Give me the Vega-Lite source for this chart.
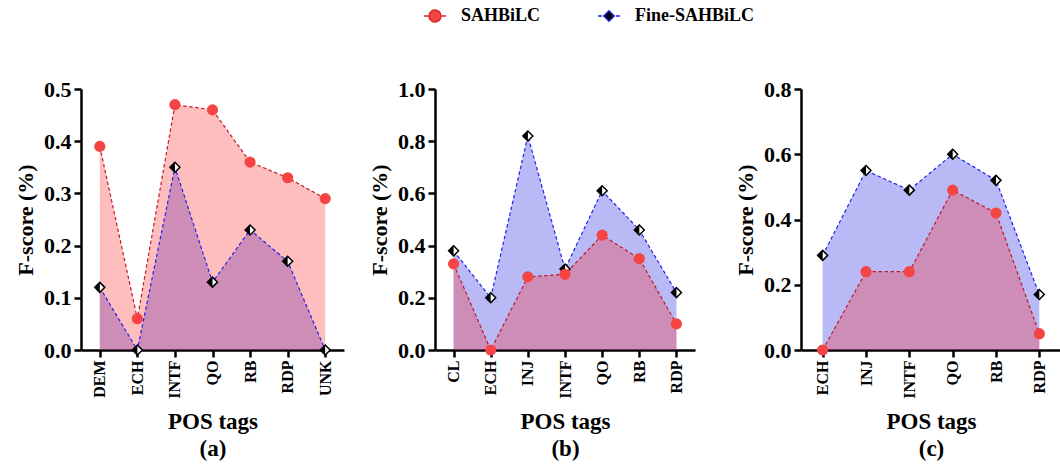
{
  "$schema": "https://vega.github.io/schema/vega-lite/v6.json",
  "background": "white",
  "padding": {"left": 14, "top": 4, "right": 0, "bottom": 0},
  "config": {
    "view": {"stroke": null},
    "font": "Liberation Serif",
    "axis": {"domainColor": "black", "domainWidth": 2.5, "tickColor": "black", "tickWidth": 2.5, "tickSize": 7, "labelColor": "black", "titleColor": "black", "labelFont": "Liberation Serif", "titleFont": "Liberation Serif", "labelFontWeight": "bold", "titleFontWeight": "bold", "grid": false},
    "axisY": {"labelFontSize": 22, "titleFontSize": 22, "titlePadding": 6, "labelPadding": 3},
    "axisX": {"labelFontSize": 16, "labelAngle": -90, "titleFontSize": 23, "labelPadding": 3, "titlePadding": 12, "titleLineHeight": 27}
  },
  "datasets": {
    "a": [
      {"tag": "DEM", "s": 0.39, "f": 0.12},
      {"tag": "ECH", "s": 0.06, "f": 0.0},
      {"tag": "INTF", "s": 0.47, "f": 0.35},
      {"tag": "QO", "s": 0.46, "f": 0.13},
      {"tag": "RB", "s": 0.36, "f": 0.23},
      {"tag": "RDP", "s": 0.33, "f": 0.17},
      {"tag": "UNK", "s": 0.29, "f": 0.0}
    ],
    "b": [
      {"tag": "CL", "s": 0.33, "f": 0.38},
      {"tag": "ECH", "s": 0.0, "f": 0.20},
      {"tag": "INJ", "s": 0.28, "f": 0.82},
      {"tag": "INTF", "s": 0.29, "f": 0.31},
      {"tag": "QO", "s": 0.44, "f": 0.61},
      {"tag": "RB", "s": 0.35, "f": 0.46},
      {"tag": "RDP", "s": 0.10, "f": 0.22}
    ],
    "c": [
      {"tag": "ECH", "s": 0.0, "f": 0.29},
      {"tag": "INJ", "s": 0.24, "f": 0.55},
      {"tag": "INTF", "s": 0.24, "f": 0.49},
      {"tag": "QO", "s": 0.49, "f": 0.60},
      {"tag": "RB", "s": 0.42, "f": 0.52},
      {"tag": "RDP", "s": 0.05, "f": 0.17}
    ]
  },
  "bounds": "flush",
  "spacing": 91,
  "resolve": {"scale": {"x": "independent", "y": "independent"}},
  "hconcat": [
    {
      "width": 263, "height": 261,
      "data": {"name": "a"},
      "encoding": {"x": {"field": "tag", "type": "nominal", "sort": null, "scale": {"type": "point", "padding": 0.5}, "axis": {"title": ["POS tags", "(a)"]}}},
      "layer": [
        {"mark": {"type": "area", "color": "#1818dd", "opacity": 0.3}, "encoding": {"y": {"field": "f", "type": "quantitative", "title": "F-score (%)", "scale": {"domain": [0, 0.5], "nice": false}, "axis": {"values": [0, 0.1, 0.2, 0.3, 0.4, 0.5], "format": ".1f"}}}},
        {"mark": {"type": "area", "color": "#ff2828", "opacity": 0.3}, "encoding": {"y": {"field": "s", "type": "quantitative", "title": "F-score (%)"}}},
        {"mark": {"type": "line", "color": "#2020f0", "strokeDash": [3.5, 2.5], "strokeWidth": 1.2}, "encoding": {"y": {"field": "f", "type": "quantitative", "title": "F-score (%)"}}},
        {"mark": {"type": "line", "color": "#c01828", "strokeDash": [3.5, 2.5], "strokeWidth": 1.2}, "encoding": {"y": {"field": "s", "type": "quantitative", "title": "F-score (%)"}}},
        {"mark": {"type": "point", "shape": "diamond", "filled": true, "fill": "white", "stroke": "black", "strokeWidth": 1.5, "size": 100, "opacity": 1}, "encoding": {"y": {"field": "f", "type": "quantitative", "title": "F-score (%)"}}},
        {"mark": {"type": "point", "shape": "M-1,0L0,-1L0,1Z", "filled": true, "color": "black", "size": 100, "opacity": 1}, "encoding": {"y": {"field": "f", "type": "quantitative", "title": "F-score (%)"}}},
        {"mark": {"type": "point", "shape": "circle", "filled": true, "color": "#f44444", "size": 125, "opacity": 1}, "encoding": {"y": {"field": "s", "type": "quantitative", "title": "F-score (%)"}}},
        {
          "data": {"values": []},
          "mark": {"type": "point", "filled": true, "strokeWidth": 1.3, "opacity": 1},
          "encoding": {
            "shape": {"field": "series", "type": "nominal", "scale": {"domain": ["SAHBiLC", "Fine-SAHBiLC"], "range": ["M-1,0H-0.62M0.62,0H1M-0.55,0A0.55,0.55,0,1,1,0.55,0A0.55,0.55,0,1,1,-0.55,0Z", "M-1,0H-0.62M0.62,0H1M-0.48,0L0,-0.48L0.48,0L0,0.48Z"]},
              "legend": {"title": null, "orient": "none", "legendX": 342, "legendY": -85, "direction": "horizontal", "labelFontSize": 18, "labelFont": "Liberation Serif", "labelFontWeight": "bold", "labelColor": "black", "symbolSize": 484, "columnPadding": 54, "labelOffset": 14, "symbolStrokeWidth": 1.3}},
            "fill": {"field": "series", "type": "nominal", "scale": {"domain": ["SAHBiLC", "Fine-SAHBiLC"], "range": ["#f44444", "#000000"]},
              "legend": {"title": null, "orient": "none", "legendX": 342, "legendY": -85, "direction": "horizontal", "labelFontSize": 18, "labelFont": "Liberation Serif", "labelFontWeight": "bold", "labelColor": "black", "symbolSize": 484, "columnPadding": 54, "labelOffset": 14, "symbolStrokeWidth": 1.3}},
            "stroke": {"field": "series", "type": "nominal", "scale": {"domain": ["SAHBiLC", "Fine-SAHBiLC"], "range": ["#d42020", "#2020f0"]},
              "legend": {"title": null, "orient": "none", "legendX": 342, "legendY": -85, "direction": "horizontal", "labelFontSize": 18, "labelFont": "Liberation Serif", "labelFontWeight": "bold", "labelColor": "black", "symbolSize": 484, "columnPadding": 54, "labelOffset": 14, "symbolStrokeWidth": 1.3}}
          }
        }
      ]
    },
    {
      "bounds": "flush",
      "spacing": 106,
      "resolve": {"scale": {"x": "independent", "y": "independent"}},
      "hconcat": [
        {
          "width": 260, "height": 261,
          "data": {"name": "b"},
          "encoding": {"x": {"field": "tag", "type": "nominal", "sort": null, "scale": {"type": "point", "padding": 0.5}, "axis": {"title": ["POS tags", "(b)"]}}},
          "layer": [
            {"mark": {"type": "area", "color": "#1818dd", "opacity": 0.3}, "encoding": {"y": {"field": "f", "type": "quantitative", "title": "F-score (%)", "scale": {"domain": [0, 1], "nice": false}, "axis": {"values": [0, 0.2, 0.4, 0.6, 0.8, 1.0], "format": ".1f"}}}},
            {"mark": {"type": "area", "color": "#ff2828", "opacity": 0.3}, "encoding": {"y": {"field": "s", "type": "quantitative", "title": "F-score (%)"}}},
            {"mark": {"type": "line", "color": "#2020f0", "strokeDash": [3.5, 2.5], "strokeWidth": 1.2}, "encoding": {"y": {"field": "f", "type": "quantitative", "title": "F-score (%)"}}},
            {"mark": {"type": "line", "color": "#c01828", "strokeDash": [3.5, 2.5], "strokeWidth": 1.2}, "encoding": {"y": {"field": "s", "type": "quantitative", "title": "F-score (%)"}}},
            {"mark": {"type": "point", "shape": "diamond", "filled": true, "fill": "white", "stroke": "black", "strokeWidth": 1.5, "size": 100, "opacity": 1}, "encoding": {"y": {"field": "f", "type": "quantitative", "title": "F-score (%)"}}},
            {"mark": {"type": "point", "shape": "M-1,0L0,-1L0,1Z", "filled": true, "color": "black", "size": 100, "opacity": 1}, "encoding": {"y": {"field": "f", "type": "quantitative", "title": "F-score (%)"}}},
            {"mark": {"type": "point", "shape": "circle", "filled": true, "color": "#f44444", "size": 125, "opacity": 1}, "encoding": {"y": {"field": "s", "type": "quantitative", "title": "F-score (%)"}}}
          ]
        },
        {
          "width": 260, "height": 261,
          "data": {"name": "c"},
          "encoding": {"x": {"field": "tag", "type": "nominal", "sort": null, "scale": {"type": "point", "padding": 0.5}, "axis": {"title": ["POS tags", "(c)"]}}},
          "layer": [
            {"mark": {"type": "area", "color": "#1818dd", "opacity": 0.3}, "encoding": {"y": {"field": "f", "type": "quantitative", "title": "F-score (%)", "scale": {"domain": [0, 0.8], "nice": false}, "axis": {"values": [0, 0.2, 0.4, 0.6, 0.8], "format": ".1f"}}}},
            {"mark": {"type": "area", "color": "#ff2828", "opacity": 0.3}, "encoding": {"y": {"field": "s", "type": "quantitative", "title": "F-score (%)"}}},
            {"mark": {"type": "line", "color": "#2020f0", "strokeDash": [3.5, 2.5], "strokeWidth": 1.2}, "encoding": {"y": {"field": "f", "type": "quantitative", "title": "F-score (%)"}}},
            {"mark": {"type": "line", "color": "#c01828", "strokeDash": [3.5, 2.5], "strokeWidth": 1.2}, "encoding": {"y": {"field": "s", "type": "quantitative", "title": "F-score (%)"}}},
            {"mark": {"type": "point", "shape": "diamond", "filled": true, "fill": "white", "stroke": "black", "strokeWidth": 1.5, "size": 100, "opacity": 1}, "encoding": {"y": {"field": "f", "type": "quantitative", "title": "F-score (%)"}}},
            {"mark": {"type": "point", "shape": "M-1,0L0,-1L0,1Z", "filled": true, "color": "black", "size": 100, "opacity": 1}, "encoding": {"y": {"field": "f", "type": "quantitative", "title": "F-score (%)"}}},
            {"mark": {"type": "point", "shape": "circle", "filled": true, "color": "#f44444", "size": 125, "opacity": 1}, "encoding": {"y": {"field": "s", "type": "quantitative", "title": "F-score (%)"}}}
          ]
        }
      ]
    }
  ]
}
